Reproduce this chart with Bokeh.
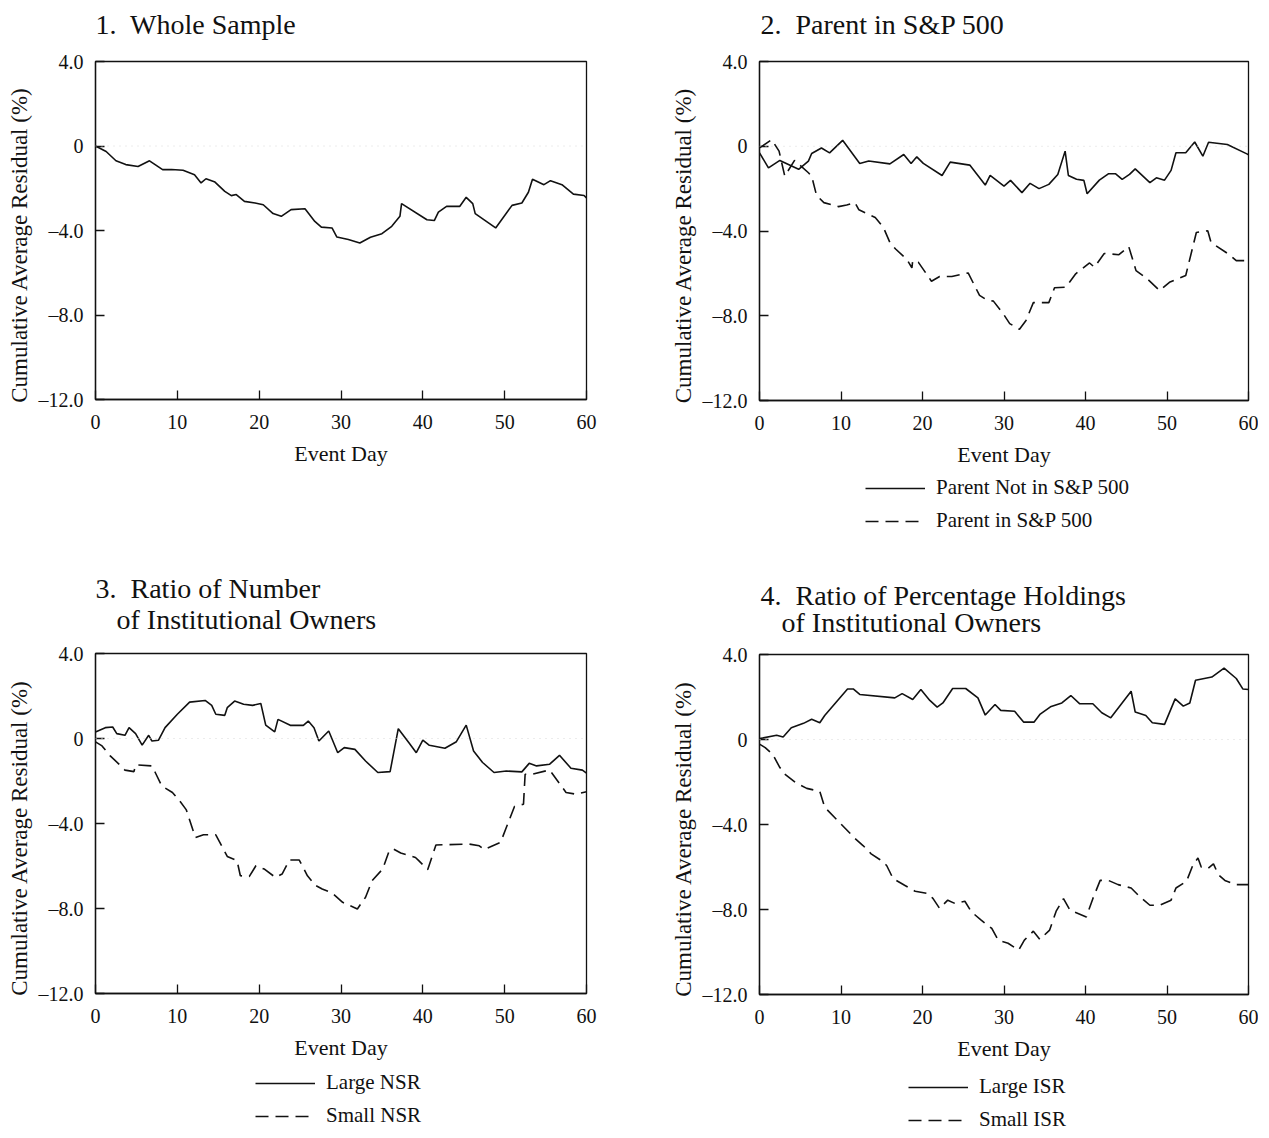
from bokeh.plotting import figure
from bokeh.models import Range1d, FixedTicker, Legend, LegendItem, Span, Label
from bokeh.layouts import column, row
from bokeh.embed import file_html
from bokeh.resources import INLINE

FONT = "Liberation Serif"
NB = "\u00a0"

# ---------------- data ----------------
x_ticks = [0, 10, 20, 30, 40, 50, 60]
y_ticks = [4, 0, -4, -8, -12]
y_tick_labels = {4: "4.0", 0: "0", -4: "–4.0", -8: "–8.0", -12: "–12.0"}

# Panel 1: whole sample
p1_day = [0, 1.3, 2.5, 3.7, 5.2, 6.6, 8.2, 9.3, 10.7, 12.1, 12.9, 13.5, 14.6, 15.8, 16.6,
          17.2, 18.2, 19.5, 20.5, 21.7, 22.7, 23.9, 25.6, 26.8, 27.6, 28.9, 29.5, 30.9, 32.3, 33.6,
          35.0, 36.2, 37.2, 37.4, 40.5, 41.4, 41.9, 42.9, 44.5, 45.3, 46.1, 46.4, 48.9, 50.9, 52.1,
          52.9, 53.4, 54.8, 55.6, 57.0, 58.4, 59.7, 60]
p1_car = [0.0, -0.26, -0.70, -0.88, -0.97, -0.70, -1.12, -1.11, -1.15, -1.36, -1.75, -1.55, -1.71, -2.15, -2.35,
          -2.30, -2.62, -2.70, -2.78, -3.20, -3.33, -3.01, -2.97, -3.57, -3.84, -3.88, -4.31, -4.43, -4.59, -4.32,
          -4.15, -3.80, -3.33, -2.73, -3.49, -3.53, -3.13, -2.86, -2.86, -2.43, -2.73, -3.20, -3.88, -2.81, -2.70,
          -2.19, -1.57, -1.83, -1.64, -1.83, -2.28, -2.34, -2.46]

# Panel 2: parent not in S&P 500 (solid)
p2_not_day = [0, 1.1, 2.5, 4.8, 6.0, 6.4, 7.6, 8.6, 10.2, 12.3, 13.4, 16.0, 17.7, 18.6, 19.3,
              20.1, 22.4, 23.4, 25.8, 27.7, 28.3, 30.0, 30.8, 32.2, 33.2, 34.3, 35.5, 36.6, 37.5, 37.9,
              38.9, 39.8, 40.2, 41.7, 42.8, 43.7, 44.5, 45.4, 46.1, 47.9, 48.7, 49.7, 50.5, 51.1, 52.3,
              53.4, 54.4, 55.1, 57.4, 59.8, 60]
p2_not_car = [-0.31, -1.02, -0.67, -1.09, -0.70, -0.34, -0.08, -0.31, 0.28, -0.81, -0.70, -0.83, -0.39, -0.81, -0.50,
              -0.81, -1.38, -0.75, -0.89, -1.83, -1.38, -1.88, -1.61, -2.19, -1.75, -2.00, -1.80, -1.33, -0.23, -1.38,
              -1.56, -1.61, -2.24, -1.60, -1.30, -1.30, -1.56, -1.33, -1.07, -1.72, -1.49, -1.60, -1.14, -0.31, -0.31,
              0.20, -0.47, 0.19, 0.08, -0.36, -0.40]
# Panel 2: parent in S&P 500 (dashed)
p2_in_day = [0, 1.5, 2.4, 3.1, 4.3, 6.0, 6.4, 7.0, 7.9, 9.7, 10.7, 11.7, 12.2, 14.2, 15.2,
             16.0, 16.7, 18.1, 18.7, 18.8, 19.5, 21.1, 22.1, 23.6, 25.6, 27.0, 27.8, 28.7, 29.9, 30.7,
             31.9, 32.7, 33.6, 35.5, 36.2, 37.6, 38.8, 40.5, 41.1, 42.3, 44.1, 45.3, 46.2, 47.5, 49.1,
             50.3, 52.3, 53.6, 55.0, 55.4, 57.7, 58.5, 60]
p2_in_car = [-0.08, 0.31, -0.23, -1.41, -0.67, -1.25, -1.41, -2.32, -2.66, -2.85, -2.77, -2.66, -3.00, -3.36, -3.83,
             -4.54, -4.85, -5.35, -5.74, -5.40, -5.48, -6.37, -6.15, -6.15, -5.98, -7.04, -7.23, -7.31, -7.90, -8.37,
             -8.64, -8.22, -7.38, -7.38, -6.68, -6.65, -6.02, -5.51, -5.71, -5.06, -5.12, -4.73, -5.87, -6.23, -6.81,
             -6.42, -6.10, -4.07, -3.99, -4.54, -5.13, -5.40, -5.40]

# Panel 3: large NSR (solid)
p3_large_day = [0, 1.2, 2.1, 2.6, 3.6, 4.1, 4.9, 5.7, 6.5, 6.9, 7.7, 8.5, 10.0, 11.5, 13.4,
                14.2, 14.7, 15.8, 16.1, 17.0, 18.1, 19.2, 20.2, 20.8, 21.9, 22.3, 23.8, 25.4, 26.0, 26.7,
                27.3, 28.5, 29.6, 30.4, 31.7, 33.0, 34.5, 36.0, 37.0, 38.3, 39.2, 40.0, 40.8, 42.7, 44.1,
                45.3, 46.2, 47.3, 48.7, 50.2, 52.1, 53.0, 53.9, 55.5, 56.7, 58.1, 59.5, 60]
p3_large_car = [0.31, 0.51, 0.54, 0.23, 0.15, 0.51, 0.23, -0.31, 0.15, -0.12, -0.08, 0.51, 1.14, 1.71, 1.79,
                1.56, 1.14, 1.09, 1.45, 1.76, 1.61, 1.56, 1.65, 0.63, 0.31, 0.90, 0.62, 0.62, 0.82, 0.51,
                -0.12, 0.35, -0.67, -0.43, -0.51, -1.06, -1.60, -1.56, 0.46, -0.20, -0.67, -0.08, -0.32, -0.46, -0.15,
                0.63, -0.59, -1.13, -1.60, -1.53, -1.57, -1.17, -1.29, -1.21, -0.79, -1.40, -1.49, -1.63]
# Panel 3: small NSR (dashed)
p3_small_day = [0, 0.8, 1.8, 2.8, 3.6, 4.7, 4.9, 6.9, 7.3, 8.1, 9.4, 10.2, 11.1, 12.2, 13.2,
                14.7, 16.1, 17.3, 17.7, 18.8, 19.6, 20.6, 22.0, 22.8, 23.7, 24.9, 25.9, 26.9, 27.7, 28.9,
                30.2, 32.0, 33.0, 33.8, 35.1, 35.9, 36.4, 37.3, 39.1, 39.5, 40.6, 41.6, 45.7, 46.9, 47.5,
                49.5, 50.2, 51.2, 52.3, 52.5, 53.4, 55.5, 57.5, 58.7, 60]
p3_small_car = [-0.16, -0.35, -0.82, -1.18, -1.49, -1.56, -1.24, -1.29, -1.60, -2.23, -2.54, -2.89, -3.36, -4.66, -4.53,
                -4.53, -5.55, -5.75, -6.46, -6.49, -5.99, -6.14, -6.54, -6.38, -5.72, -5.72, -6.46, -6.92, -7.08, -7.27,
                -7.71, -8.02, -7.47, -6.69, -6.14, -5.28, -5.20, -5.39, -5.60, -5.75, -6.17, -5.01, -4.97, -5.05, -5.23,
                -4.89, -4.19, -3.20, -3.09, -1.68, -1.68, -1.48, -2.54, -2.62, -2.51]

# Panel 4: large ISR (solid)
p4_large_day = [0, 2.1, 2.9, 3.9, 5.4, 6.4, 7.4, 8.0, 10.8, 11.5, 12.3, 16.6, 17.5, 18.8, 19.8,
                20.9, 21.8, 22.5, 23.7, 25.3, 26.8, 27.7, 28.9, 29.6, 31.3, 32.4, 33.7, 34.4, 35.7, 37.1,
                38.2, 39.3, 40.9, 42.0, 43.1, 45.6, 46.1, 47.4, 48.2, 49.7, 51.0, 52.0, 52.8, 53.5, 55.5,
                57.0, 58.5, 59.3, 60]
p4_large_car = [0.04, 0.20, 0.12, 0.55, 0.76, 0.95, 0.79, 1.13, 2.38, 2.38, 2.12, 1.96, 2.16, 1.88, 2.35,
                1.84, 1.52, 1.72, 2.40, 2.40, 1.96, 1.15, 1.65, 1.37, 1.33, 0.82, 0.82, 1.18, 1.54, 1.72,
                2.07, 1.68, 1.68, 1.26, 1.02, 2.27, 1.29, 1.13, 0.79, 0.71, 1.91, 1.57, 1.72, 2.79, 2.94,
                3.36, 2.87, 2.38, 2.35]
# Panel 4: small ISR (dashed)
p4_small_day = [0, 0.7, 1.6, 2.5, 3.1, 4.5, 5.8, 7.4, 8.0, 9.4, 11.7, 12.7, 13.7, 14.8, 15.6,
                16.4, 17.8, 19.1, 20.7, 21.3, 22.1, 23.1, 24.0, 25.2, 26.0, 27.2, 28.5, 29.3, 30.5, 31.8,
                32.5, 33.6, 34.4, 35.6, 36.4, 37.3, 38.1, 40.1, 40.9, 41.8, 42.8, 44.0, 45.6, 46.7, 47.9,
                49.1, 50.5, 51.1, 52.4, 53.2, 53.8, 54.2, 55.0, 55.7, 56.3, 57.1, 58.5, 60]
p4_small_car = [-0.22, -0.38, -0.69, -1.32, -1.63, -2.05, -2.30, -2.44, -3.19, -3.74, -4.65, -4.99, -5.38, -5.66, -5.93,
                -6.55, -6.86, -7.14, -7.25, -7.49, -7.95, -7.56, -7.72, -7.61, -8.11, -8.50, -8.89, -9.45, -9.59, -9.91,
                -9.44, -9.02, -9.41, -8.97, -8.08, -7.49, -8.03, -8.35, -7.49, -6.63, -6.63, -6.83, -6.99, -7.41, -7.80,
                -7.80, -7.56, -6.99, -6.67, -5.89, -5.58, -6.00, -6.08, -5.85, -6.36, -6.63, -6.83, -6.83]

titles = {
    1: ["1." + NB + " Whole Sample"],
    2: ["2." + NB + " Parent in S&P 500"],
    3: ["3." + NB + " Ratio of Number", "of Institutional Owners"],
    4: ["4." + NB + " Ratio of Percentage Holdings", "of Institutional Owners"],
}
legend_labels = {
    2: ["Parent Not in S&P 500", "Parent in S&P 500"],
    3: ["Large NSR", "Small NSR"],
    4: ["Large ISR", "Small ISR"],
}

INK = "#111111"
DASH = "13 7"
LW = 1.6
Y_LABEL = "Cumulative Average Residual (%)" + NB * 5

panel2_series = [(p2_not_day, p2_not_car, "solid"), (p2_in_day, p2_in_car, DASH)]
panel3_series = [(p3_large_day, p3_large_car, "solid"), (p3_small_day, p3_small_car, DASH)]
panel4_series = [(p4_large_day, p4_large_car, "solid"), (p4_small_day, p4_small_car, DASH)]


def strip(width, height):
    # a bare canvas (no axes); its frame lines up with the panel frame below/above it
    s = figure(width=width, height=height, title=None,
               x_axis_location=None, y_axis_location=None,
               x_range=Range1d(0, 60), y_range=Range1d(100, 101),
               output_backend="svg", toolbar_location=None,
               min_border_left=0, min_border_right=0, min_border_top=0, min_border_bottom=0,
               background_fill_color="white", border_fill_color="white")
    s.outline_line_color = None
    s.grid.visible = False
    return s


def title_strip(width, height, lines):
    s = strip(width, height)
    for txt, x, y in lines:
        s.add_layout(Label(x=x, y=y, x_units="screen", y_units="screen", text=txt,
                           text_font=FONT, text_font_size="28px", text_color=INK,
                           text_align="left", text_baseline="middle"))
    return s


def legend_strip(width, height, labels=None, series=None, loc=None):
    s = strip(width, height)
    if labels:
        # same series as the panel (outside this strip's visible range), used only as legend keys
        rs = [s.line(xs, ys, line_color=INK, line_width=LW, line_dash=dash)
              for xs, ys, dash in series]
        items = [LegendItem(label=lab, renderers=[r]) for lab, r in zip(labels, rs)]
        leg = Legend(items=items, location=loc, orientation="vertical",
                     glyph_width=60, glyph_height=22, label_height=22,
                     spacing=8, padding=0, margin=0, label_standoff=11,
                     border_line_color=None, background_fill_alpha=0,
                     label_text_font=FONT, label_text_font_size="21px",
                     label_text_color=INK)
        s.add_layout(leg, "center")
    return s


def main_panel(fw, fh, b_left, b_right, b_top, b_bottom, series):
    p = figure(frame_width=fw, frame_height=fh, title=None,
               x_range=Range1d(0, 60), y_range=Range1d(-12, 4),
               output_backend="svg", toolbar_location=None,
               min_border_left=b_left, min_border_right=b_right,
               min_border_top=b_top, min_border_bottom=b_bottom,
               background_fill_color="white", border_fill_color="white")
    p.grid.visible = False
    p.outline_line_color = INK
    p.outline_line_width = 1.3

    for ax in (p.xaxis[0], p.yaxis[0]):
        ax.axis_line_color = INK
        ax.axis_line_width = 1.3
        ax.major_tick_in = 9
        ax.major_tick_out = 0
        ax.major_tick_line_color = INK
        ax.major_tick_line_width = 1.3
        ax.minor_tick_line_color = None
        ax.major_label_text_font = FONT
        ax.major_label_text_font_size = "20px"
        ax.major_label_text_color = INK
        ax.axis_label_text_font = FONT
        ax.axis_label_text_font_size = "22px"
        ax.axis_label_text_font_style = "normal"
        ax.axis_label_text_color = INK

    p.xaxis.ticker = FixedTicker(ticks=x_ticks)
    p.xaxis.axis_label = "Event Day"
    p.xaxis.major_label_standoff = 15
    p.xaxis.axis_label_standoff = 9

    p.yaxis.ticker = FixedTicker(ticks=y_ticks)
    p.yaxis.major_label_overrides = y_tick_labels
    p.yaxis.axis_label = Y_LABEL
    p.yaxis.axis_label_text_font_size = "23px"
    p.yaxis.major_label_standoff = 12
    p.yaxis.axis_label_standoff = 4

    p.add_layout(Span(location=0, dimension="width", line_color="#d8d8d8",
                      line_dash="1 5", line_width=1))

    for xs, ys, dash in series:
        p.line(xs, ys, line_color=INK, line_width=LW, line_dash=dash)
    return p


W_L, W_R = 666, 592

# Row 1
t1 = title_strip(W_L, 49, [(titles[1][0], 0, 25)])
m1 = main_panel(491, 338, 95, 80, 12, 76, [(p1_day, p1_car, "solid")])
l1 = legend_strip(W_L, 70)

t2 = title_strip(W_R, 49, [(titles[2][0], 1, 25)])
m2 = main_panel(489, 339, 93, 10, 12, 75, panel2_series)
l2 = legend_strip(W_R, 70, legend_labels[2], panel2_series, (106, 12))

# Row 2
t3 = title_strip(W_L, 96, [(titles[3][0], 0, 53), (titles[3][1], 21, 22)])
m3 = main_panel(491, 340, 95, 80, 12, 76, panel3_series)
l3 = legend_strip(W_L, 63, legend_labels[3], panel3_series, (160, 4))

t4 = title_strip(W_R, 96, [(titles[4][0], 1, 46), (titles[4][1], 22, 19)])
m4 = main_panel(489, 340, 93, 10, 13, 75, panel4_series)
l4 = legend_strip(W_R, 63, legend_labels[4], panel4_series, (149, 0))

layout = column(row(column(t1, m1, l1), column(t2, m2, l2)),
                row(column(t3, m3, l3), column(t4, m4, l4)))
open("out.html", "w").write(file_html(layout, INLINE))
